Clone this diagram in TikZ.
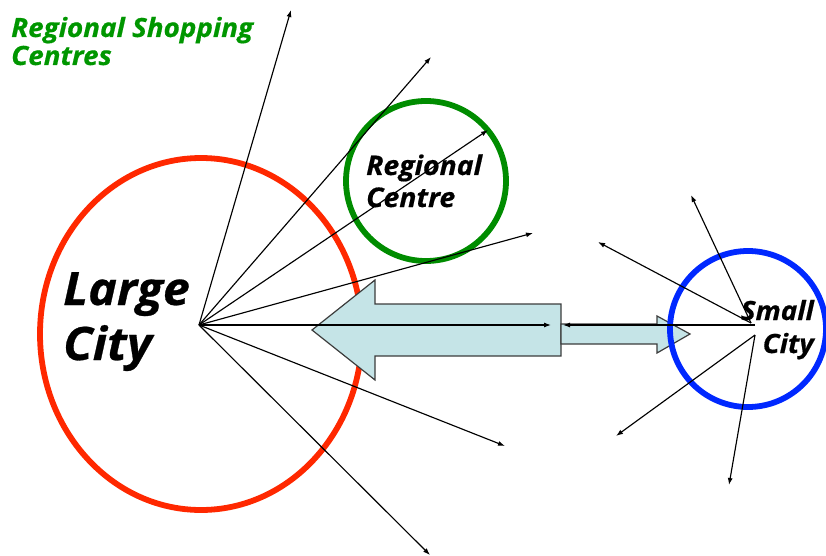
\documentclass[tikz,border=0pt]{standalone}
\usepackage{fontspec}
\setmainfont{Open Sans}
\newfontfamily\lblfont[FakeStretch=1.05,FakeBold=0.6]{Open Sans}
\usetikzlibrary{arrows.meta}
\definecolor{redc}{RGB}{255,40,0}
\definecolor{greenc}{RGB}{0,140,0}
\definecolor{greentxt}{RGB}{0,150,0}
\definecolor{bluec}{RGB}{0,40,255}
\definecolor{arrowfill}{RGB}{197,228,231}
\definecolor{arrowline}{RGB}{60,60,60}
\begin{document}
\begin{tikzpicture}[x=1pt,y=-1pt,
  ray/.style={draw=black, line width=1.15pt, -{Latex[length=7pt,width=5pt]}},
  bigarrow/.style={fill=arrowfill, draw=arrowline, line width=1.2pt, line join=miter},
  ring/.style={line width=5.8pt},
  lbl/.style={inner sep=0pt, anchor=base west},
  lblr/.style={inner sep=0pt, anchor=base east}]
\useasboundingbox (0,0) rectangle (826,556);
% circles
\draw[ring, redc] (201,334) ellipse [x radius=161pt, y radius=176pt];
% big arrow (left)
\draw[bigarrow] (312,330) -- (375,280) -- (375,304) -- (561,304) -- (561,356) -- (375,356) -- (375,380) -- cycle;
% small arrow (right)
\draw[bigarrow] (561,324) -- (657,324) -- (657,316) -- (690,334) -- (657,353) -- (657,344) -- (561,344) -- cycle;
\draw[ring, bluec] (748,329) circle [radius=78pt];
\draw[ring, greenc] (426,181) circle [radius=80pt];
% rays from large city
\coordinate (O) at (199,325);
\coordinate (e1) at (291,10);
\coordinate (e2) at (431,57);
\coordinate (e3) at (488,130);
\coordinate (e4) at (533,233);
\coordinate (e5) at (551,325);
\coordinate (e6) at (505,446);
\coordinate (e7) at (430,555);
\foreach \e in {e1,e2,e3,e4,e5,e6,e7} \draw[ray] (O) -- (\e);
% rays from small city
\coordinate (S1) at (751,323);
\coordinate (S2) at (755,335);
\coordinate (S0) at (755,325);
\coordinate (f1) at (691,195);
\coordinate (f2) at (598,242);
\coordinate (f3) at (563,325);
\coordinate (f4) at (616,436);
\coordinate (f5) at (729,485);
\draw[ray] (S1) -- (f1);
\draw[ray] (S1) -- (f2);
\draw[ray] (S0) -- (f3);
\draw[ray] (S2) -- (f4);
\draw[ray] (S2) -- (f5);
% labels
\node[lbl, text=greentxt, font=\lblfont\bfseries\itshape\fontsize{26.5}{28}\selectfont] (t1) at (11,37) {Regional Shopping};
\node[lbl, text=greentxt, font=\lblfont\bfseries\itshape\fontsize{26.5}{28}\selectfont] (t2) at (11,65) {Centres};
\node[lbl, font=\lblfont\bfseries\itshape\fontsize{46}{55}\selectfont] (lc1) at (63,305) {Large};
\node[lbl, font=\lblfont\bfseries\itshape\fontsize{46}{55}\selectfont] (lc2) at (63,360) {City};
\node[lbl, font=\lblfont\bfseries\itshape\fontsize{27}{32}\selectfont] (rc1) at (366,175) {Regional};
\node[lbl, font=\lblfont\bfseries\itshape\fontsize{27}{32}\selectfont] (rc2) at (366,207) {Centre};
\node[lblr, font=\lblfont\bfseries\itshape\fontsize{26.5}{32}\selectfont] (sc1) at (814,320) {Small};
\node[lblr, font=\lblfont\bfseries\itshape\fontsize{26.5}{32}\selectfont] (sc2) at (814,353) {City};
\end{tikzpicture}
\end{document}
